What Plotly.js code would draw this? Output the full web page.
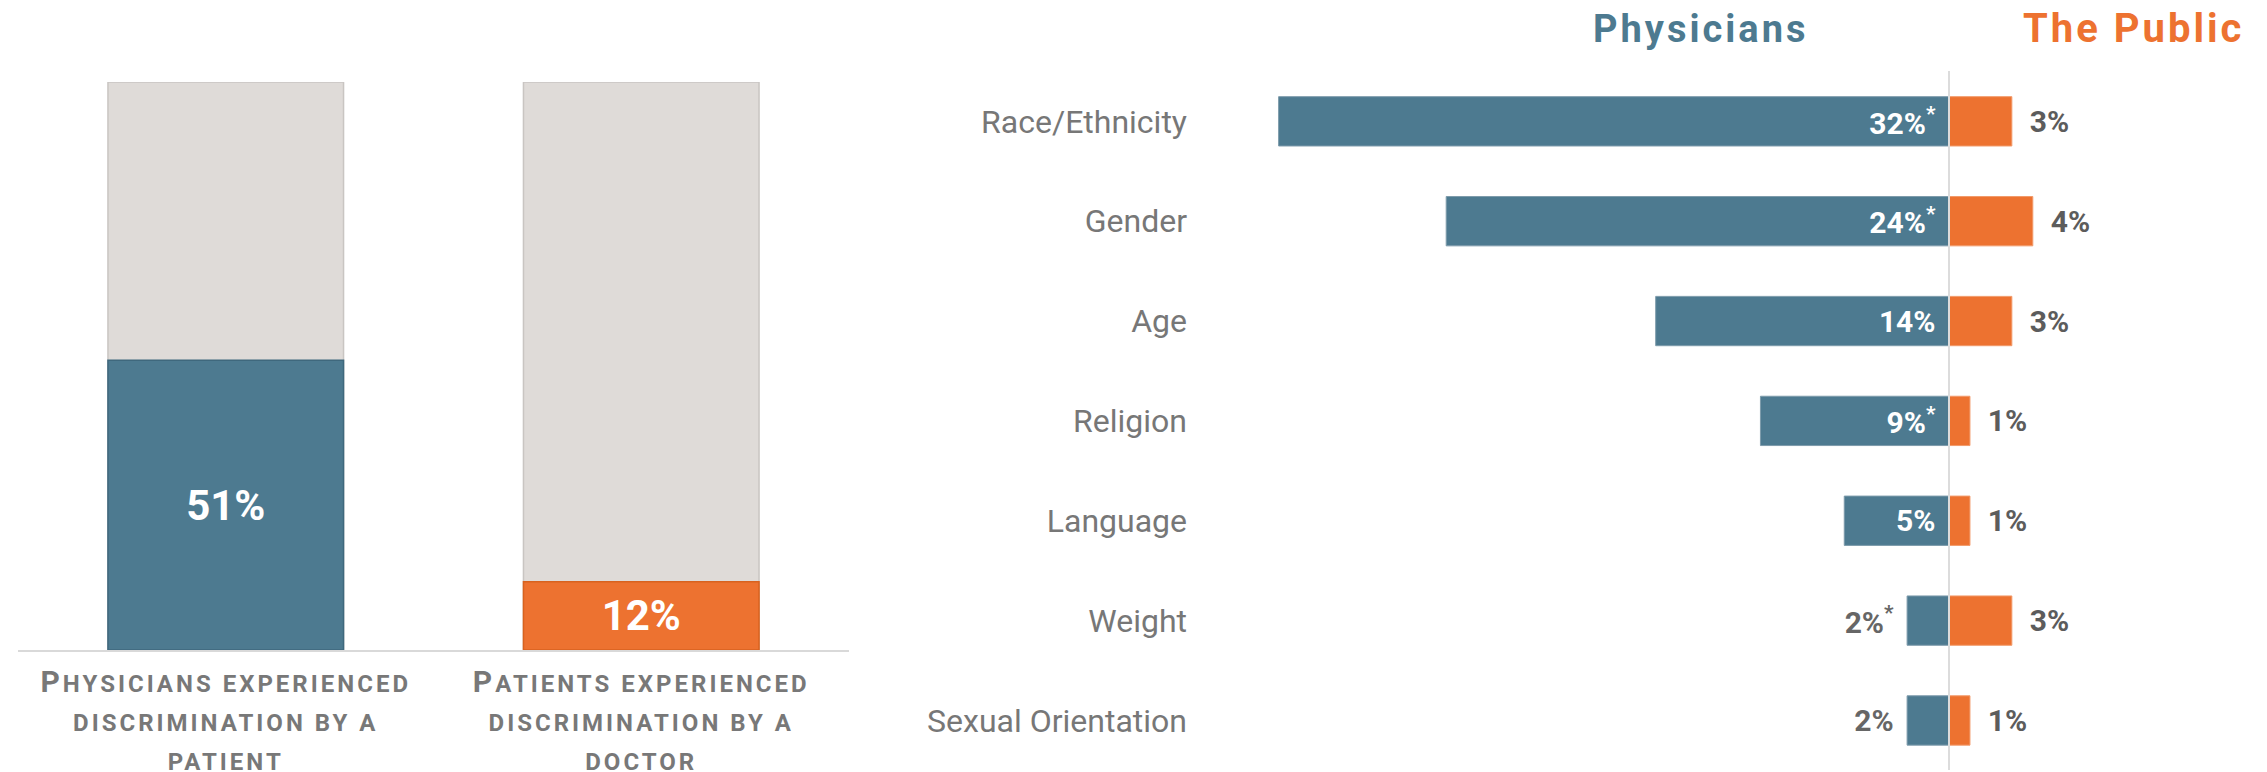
<!DOCTYPE html>
<html>
<head>
<meta charset="utf-8">
<script src="https://cdn.plot.ly/plotly-3.0.1.min.js"></script>
<style>html,body{margin:0;padding:0;background:#fff;overflow:hidden}</style>
</head>
<body>
<div id="chart" style="width:2267px;height:772px"></div>
<script>
// ---------- data ----------
const overallCategories = [
  ["Physicians experienced", "discrimination by a", "patient"],
  ["Patients experienced", "discrimination by a", "doctor"]
];
const overallValues = [51, 12];
const overallTotal = [100, 100];

const groupCategories = ["Race/Ethnicity", "Gender", "Age", "Religion", "Language", "Weight", "Sexual Orientation"];
const physiciansValues = [32, 24, 14, 9, 5, 2, 2];
const physiciansSignificant = [true, true, false, true, false, true, false];
const publicValues = [3, 4, 3, 1, 1, 3, 1];
const seriesNames = ["Physicians", "The Public"];

// ---------- styles ----------
const W = 2267, H = 772;
const BLUE = '#4d7a90', ORANGE = '#ed7230', GRAYBAR = '#dfdbd8';
const FONT = 'Roboto, "Open Sans", sans-serif';
const NB = '\u00a0', HAIR = '\u200a';

// small-caps look: capitals at full size, lowercase turned into smaller capitals
function smallCaps(line) {
  return line.replace(/([A-Z]+)|([^A-Z]+)/g, (m, up, low) => up
    ? '<span style="letter-spacing:3px">' + up + '</span>'
    : '<span style="font-size:24px;letter-spacing:3px">' + low.toUpperCase() + '</span>');
}
const leftKeys = overallCategories.map(l => l.join(' '));
const leftTickText = overallCategories.map(l => l.map(smallCaps).join('<br>'));

// right chart geometry
const zeroPx = 1949, pxPerUnit = 20.95, x2Start = 1196;

const traces = [
  {
    type: 'bar', x: leftKeys, y: overallTotal, xaxis: 'x', yaxis: 'y',
    marker: {color: GRAYBAR, line: {color: '#c9c5c2', width: 1.5}},
    width: 0.567, hoverinfo: 'skip', showlegend: false
  },
  {
    type: 'bar', x: leftKeys, y: overallValues, xaxis: 'x', yaxis: 'y',
    marker: {color: [BLUE, ORANGE], line: {color: ['#3f687d', '#d8621f'], width: 1.5}},
    width: 0.567, text: overallValues.map(v => v + '%'), textposition: 'inside',
    insidetextanchor: 'middle', constraintext: 'none',
    textfont: {family: FONT, size: 42, color: '#ffffff', weight: 'bold'},
    hoverinfo: 'skip', showlegend: false
  },
  {
    type: 'bar', orientation: 'h', name: seriesNames[0],
    x: physiciansValues.map(v => -v), y: groupCategories, xaxis: 'x2', yaxis: 'y2',
    marker: {color: BLUE, line: {color: '#7d9bab', width: 1}},
    width: 0.494,
    text: physiciansValues.map((v, i) => v + '%' + (physiciansSignificant[i] ? '<sup>*</sup>' : '') + NB + HAIR),
    textposition: 'auto', insidetextanchor: 'start', constraintext: 'none',
    textfont: {family: FONT, size: 30, weight: 'bold'},
    insidetextfont: {family: FONT, size: 30, color: '#ffffff', weight: 'bold'},
    outsidetextfont: {family: FONT, size: 30, color: '#666666', weight: 'bold'},
    cliponaxis: false, hoverinfo: 'skip', showlegend: false
  },
  {
    type: 'bar', orientation: 'h', name: seriesNames[1],
    x: publicValues, y: groupCategories, xaxis: 'x2', yaxis: 'y2',
    marker: {color: ORANGE, line: {color: '#f29a6a', width: 1}},
    width: 0.494,
    text: publicValues.map(v => NB + NB + v + '%'),
    textposition: 'outside', constraintext: 'none',
    textfont: {family: FONT, size: 30, color: '#5c5c5c', weight: 'bold'},
    outsidetextfont: {family: FONT, size: 30, color: '#5c5c5c', weight: 'bold'},
    cliponaxis: false, hoverinfo: 'skip', showlegend: false
  }
];

const layout = {
  width: W, height: H,
  margin: {l: 0, r: 0, t: 0, b: 0, pad: 0},
  paper_bgcolor: '#ffffff', plot_bgcolor: 'rgba(0,0,0,0)',
  barmode: 'overlay',
  showlegend: false,
  font: {family: FONT},
  xaxis: {
    domain: [18 / W, 849 / W], type: 'category', range: [-0.5, 1.5],
    tickvals: leftKeys, ticktext: leftTickText,
    showline: true, linecolor: '#d9d9d9', linewidth: 2,
    ticks: '', showgrid: false, zeroline: false, automargin: false, fixedrange: true,
    ticklabelstandoff: 4,
    tickfont: {family: FONT, size: 30, color: '#787878', weight: 'bold'}
  },
  yaxis: {
    domain: [(H - 650) / H, (H - 82) / H], range: [0, 100],
    visible: false, fixedrange: true
  },
  xaxis2: {
    anchor: 'y2',
    domain: [x2Start / W, 1],
    range: [(x2Start - zeroPx) / pxPerUnit, (W - zeroPx) / pxPerUnit],
    showticklabels: false, ticks: '', showgrid: false, showline: false,
    zeroline: true, zerolinecolor: '#dcdcdc', zerolinewidth: 2,
    layer: 'above traces', zerolinelayer: 'above traces',
    automargin: false, fixedrange: true
  },
  yaxis2: {
    anchor: 'x2',
    domain: [1.6 / H, (H - 71.4) / H],
    type: 'category', categoryorder: 'array', categoryarray: groupCategories,
    range: [6.5, -0.5],
    ticks: '', showgrid: false, zeroline: false, showline: false,
    automargin: false, fixedrange: true, ticklabelstandoff: 8,
    tickfont: {family: FONT, size: 32, color: '#777777'}
  },
  annotations: [
    {
      xref: 'paper', yref: 'paper', x: 1701 / W, y: (H - 29) / H,
      xanchor: 'center', yanchor: 'middle', showarrow: false,
      text: '<span style="letter-spacing:3px">' + seriesNames[0] + '</span>',
      font: {family: FONT, size: 38, color: BLUE, weight: 'bold'}
    },
    {
      xref: 'paper', yref: 'paper', x: 2133 / W, y: (H - 28) / H,
      xanchor: 'center', yanchor: 'middle', showarrow: false,
      text: '<span style="letter-spacing:3px">' + seriesNames[1] + '</span>',
      font: {family: FONT, size: 40, color: ORANGE, weight: 'bold'}
    }
  ]
};

Plotly.newPlot('chart', traces, layout, {displayModeBar: false, staticPlot: true});
</script>
</body>
</html>
